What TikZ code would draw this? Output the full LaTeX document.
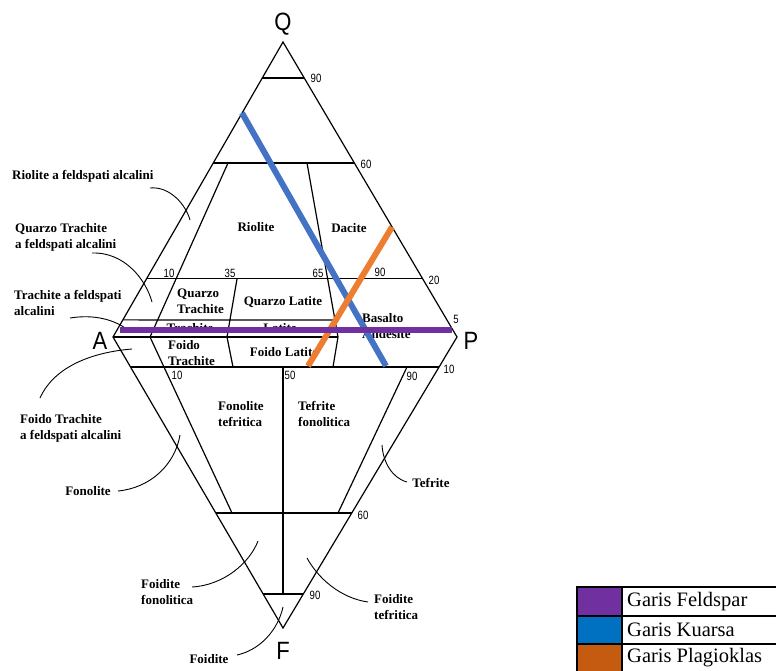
\documentclass[tikz,border=0pt]{standalone}
\usepackage{fontspec}
\setmainfont{Liberation Serif}
\newfontfamily\tickfont[FakeStretch=0.8]{Liberation Sans}
\newfontfamily\cornerfont[FakeStretch=0.88]{Liberation Sans}
\usepackage{tikz}
\usetikzlibrary{calc}

\definecolor{feldspar}{HTML}{7030A0}
\definecolor{kuarsa}{HTML}{4472C4}
\definecolor{plagioklas}{HTML}{ED7D31}
\definecolor{boxfeld}{HTML}{7030A0}
\definecolor{boxkuar}{HTML}{0070C0}
\definecolor{boxplag}{HTML}{C55A11}

\tikzset{
  field/.style={font=\bfseries\fontsize{13}{16}\selectfont, align=left, inner sep=0pt},
  tick/.style={font=\tickfont\fontsize{12}{12}\selectfont, inner sep=0pt},
  corner/.style={font=\cornerfont\fontsize{25}{25}\selectfont, inner sep=0pt},
  rim/.style={line width=1.2pt},
  leader/.style={line width=0.9pt},
  garis/.style={line width=6pt},
  legendtext/.style={font=\fontsize{20.5}{22}\selectfont, inner sep=0pt, anchor=west},
}

\begin{document}
\begin{tikzpicture}[x=1pt,y=-1pt]
\useasboundingbox (0,0) rectangle (776,671);
\clip (0,0) rectangle (776,671);

% corners of the double triangle
\coordinate (Q) at (283,42);
\coordinate (A) at (113,337);
\coordinate (P) at (457,337);
\coordinate (F) at (283,628);

% horizontal levels
\coordinate (q90a) at ($(Q)!0.122!(A)$);  \coordinate (q90p) at ($(Q)!0.122!(P)$);
\coordinate (q60a) at ($(Q)!0.410!(A)$);  \coordinate (q60p) at ($(Q)!0.410!(P)$);
\coordinate (q20a) at ($(Q)!0.803!(A)$);  \coordinate (q20p) at ($(Q)!0.803!(P)$);
\coordinate (q5a)  at ($(Q)!0.942!(A)$);  \coordinate (q5e) at (335,320);
\coordinate (f10a) at ($(F)!0.897!(A)$);  \coordinate (f10p) at ($(F)!0.897!(P)$);
\coordinate (f60a) at ($(F)!0.395!(A)$);  \coordinate (f60p) at ($(F)!0.395!(P)$);
\coordinate (f90a) at ($(F)!0.117!(A)$);  \coordinate (f90p) at ($(F)!0.117!(P)$);

% dividers
\coordinate (b10) at (150,337);  \coordinate (t10) at (228,163);
\coordinate (b35) at (227,337);  \coordinate (t35) at (237,279);
\coordinate (b65) at (338,337);  \coordinate (t65) at (307,163);
\coordinate (l10) at (232,513);
\coordinate (l35) at (233,367);
\coordinate (l65) at (333,367);
\coordinate (l50t) at (283,367); \coordinate (l50b) at (283,594);
\coordinate (l90t) at (407,367); \coordinate (l90b) at (338,513);

\draw[rim] (A) -- (Q) -- (P) -- (F) -- cycle;
\draw[rim] (q90a) -- (q90p);
\draw[rim] (q60a) -- (q60p);
\draw[rim] (q20a) -- (q20p);
\draw[rim] (q5a) -- (q5e);
\draw[rim] (A) -- (b65);
\draw[rim] (f10a) -- (f10p);
\draw[rim] (f60a) -- (f60p);
\draw[rim] (f90a) -- (f90p);
\draw[rim] (t10) -- (b10) -- (l10);
\draw[rim] (t35) -- (b35) -- (l35);
\draw[rim] (t65) -- (b65) -- (l65);
\draw[rim] (l50t) -- (l50b);
\draw[rim] (l90t) -- (l90b);

% corner letters
\draw (283,24) node[corner] (cq) {Q};
\draw (100,341) node[corner] (ca) {A};
\draw (471,341) node[corner] (cp) {P};
\draw (283,651) node[corner] (cf) {F};

% numbers
\draw (316,78) node[tick] (n90q) {90};
\draw (366,164) node[tick] (n60q) {60};
\draw (169,273) node[tick] (n10q) {10};
\draw (230,273) node[tick] (n35q) {35};
\draw (318,273) node[tick] (n65q) {65};
\draw (380,272) node[tick] (n90m) {90};
\draw (434,280) node[tick] (n20q) {20};
\draw (456,319) node[tick] (n5q) {5};
\draw (449,369) node[tick] (n10p) {10};
\draw (177,375) node[tick] (n10f) {10};
\draw (290,375) node[tick] (n50f) {50};
\draw (412,376) node[tick] (n90f) {90};
\draw (363,515) node[tick] (n60f) {60};
\draw (315,595) node[tick] (n90b) {90};

% fields
\draw (256,227) node[field] (riolite) {Riolite};
\draw (349,228) node[field] (dacite) {Dacite};
\draw (177,301) node[field,anchor=west] (qtrach) {Quarzo\\Trachite};
\draw (283,302) node[field] (qlatite) {Quarzo Latite};
\draw (362,326) node[field,anchor=west] (basalto) {Basalto\\Andesite};
\draw (190,328) node[field] (trachite) {Trachite};
\draw (280,328) node[field] (latite) {Latite};
\draw (168,353) node[field,anchor=west] (ftrach) {Foido\\Trachite};
\draw (284,352) node[field] (flatite) {Foido Latite};
\draw (218,414) node[field,anchor=west] (fonteff) {Fonolite\\tefritica};
\draw (298,414) node[field,anchor=west] (teffon) {Tefrite\\fonolitica};

% outside labels
\draw (12,176) node[field,anchor=west] (rfa) {Riolite a feldspati alcalini};
\draw (15,237) node[field,anchor=west] (qtfa) {Quarzo Trachite\\a feldspati alcalini};
\draw (14,303) node[field,anchor=west] (tfa) {Trachite a feldspati\\alcalini};
\draw (20,428) node[field,anchor=west] (ftfa) {Foido Trachite\\a feldspati alcalini};
\draw (88,491) node[field] (fonolite) {Fonolite};
\draw (431,483) node[field] (tefrite) {Tefrite};
\draw (141,592) node[field,anchor=west] (ffon) {Foidite\\fonolitica};
\draw (374,607) node[field,anchor=west] (ftef) {Foidite\\tefritica};
\draw (209,659) node[field] (foidite) {Foidite};

% leaders
\coordinate (rfa1) at (150,188);  \coordinate (rfa2) at (190,220);
\coordinate (qtfa1) at (92,253);  \coordinate (qtfa2) at (152,302);
\coordinate (tfa1) at (70,318);   \coordinate (tfa2) at (128,330);
\coordinate (ftfa1) at (40,398);  \coordinate (ftfa2) at (132,349);
\coordinate (fon1) at (118,491);  \coordinate (fon2) at (180,435);
\coordinate (tef1) at (407,482);  \coordinate (tef2) at (382,445);
\coordinate (ffon1) at (192,587); \coordinate (ffon2) at (258,541);
\coordinate (ftef1) at (368,602); \coordinate (ftef2) at (307,558);
\coordinate (foi1) at (237,655);  \coordinate (foi2) at (283,607);
\draw[leader] (rfa1) .. controls (170,186) and (186,205) .. (rfa2);
\draw[leader] (qtfa1) .. controls (125,252) and (146,280) .. (qtfa2);
\draw[leader] (tfa1) .. controls (95,314) and (115,320) .. (tfa2);
\draw[leader] (ftfa1) .. controls (55,365) and (95,352) .. (ftfa2);
\draw[leader] (fon1) .. controls (150,488) and (175,465) .. (fon2);
\draw[leader] (tef1) .. controls (392,478) and (383,462) .. (tef2);
\draw[leader] (ffon1) .. controls (225,585) and (250,562) .. (ffon2);
\draw[leader] (ftef1) .. controls (340,598) and (318,578) .. (ftef2);
\draw[leader] (foi1) .. controls (260,650) and (278,630) .. (foi2);

% garis
\coordinate (kua1) at (242,113); \coordinate (kua2) at (386,366);
\coordinate (pla1) at (392,227); \coordinate (pla2) at (308,366);
\coordinate (fel1) at (120,330); \coordinate (fel2) at (452,330);
\draw[garis,kuarsa] (kua1) -- (kua2);
\draw[garis,plagioklas] (pla1) -- (pla2);
\draw[garis,feldspar] (fel1) -- (fel2);

% legend
\fill[boxfeld] (577,587) rectangle (622,616);
\fill[boxkuar] (577,616) rectangle (622,644);
\fill[boxplag] (577,644) rectangle (622,680);
\draw[line width=2pt] (577,680) -- (577,587) -- (790,587);
\draw[line width=2pt] (577,616) -- (790,616);
\draw[line width=2pt] (577,644) -- (790,644);
\draw[line width=2pt] (622,587) -- (622,680);
\draw (627,602) node[legendtext] (lfel) {Garis Feldspar};
\draw (627,630) node[legendtext] (lkua) {Garis Kuarsa};
\draw (627,658) node[legendtext] (lpla) {Garis Plagioklas};
\end{tikzpicture}
\end{document}
